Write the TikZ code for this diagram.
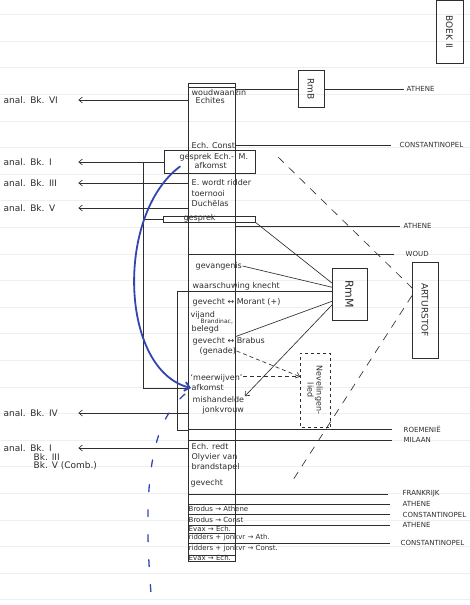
\documentclass[tikz,border=0pt]{standalone}
\usepackage{fontspec}
\setsansfont{DejaVu Sans}
\usepackage{tikz}
\usetikzlibrary{arrows.meta,positioning,calc}
\definecolor{InkGray}{HTML}{2E2E2E}
\definecolor{PenBlue}{HTML}{3346B0}
\definecolor{RuleGray}{HTML}{EDEFF2}

\begin{document}
\begin{tikzpicture}[x=1pt, y=-1pt, >={Straight Barb[length=3.5pt,width=6pt]},
  ink/.style={draw=InkGray, line width=0.65pt},
  txt/.style={inner sep=0.5pt, anchor=west, text=InkGray, font=\sffamily\fontsize{8}{9}\selectfont},
  rowtxt/.style={inner sep=0.5pt, anchor=west, text=InkGray, font=\sffamily\fontsize{7}{8}\selectfont},
  lft/.style={inner sep=0.5pt, anchor=west, text=InkGray, font=\sffamily\fontsize{9}{10}\selectfont},
  anal/.style={lft, text width=74pt},
  place/.style={inner sep=0.5pt, anchor=west, text=InkGray, font=\sffamily\fontsize{7}{8}\selectfont},
  tag/.style={ink, rotate=-90, inner sep=0pt, outer sep=0pt, text=InkGray, align=center, font=\sffamily\fontsize{9}{10}\selectfont},
  longdash/.style={ink, dash pattern=on 8pt off 7pt},
  pen/.style={draw=PenBlue, line width=1.8pt, line cap=round}]
  \useasboundingbox (0,0) rectangle (470,605);
  \fill[white] (0,0) rectangle (470,605);
  % paper ruling
  \foreach \k in {0,...,22}
    \draw[RuleGray, line width=0.5pt] (0,{14.4+26.6*\k}) -- (470,{14.4+26.6*\k});

  % central column
  \node[ink, minimum width=47pt, minimum height=478pt, inner sep=0pt, outer sep=0pt, anchor=north west] (col) at (188,83) {};
  \foreach \y in {87,533,555}
    \draw[ink] (col.west |- 0,\y) -- (col.east |- 0,\y);

  % boxes
  \node[tag, minimum width=63pt, minimum height=27pt] (boek) at (449.5,32) {BOEK II};
  \node[tag, minimum width=37pt, minimum height=26pt] (rmb) at (311,89) {RmB};
  \node[tag, font=\sffamily\fontsize{11}{12}\selectfont, minimum width=52pt, minimum height=35pt] (rmm) at (349.5,294) {RmM};
  \node[tag, minimum width=96pt, minimum height=26pt] (art) at (425,310) {ARTURSTOF};
  \node[tag, dashed, font=\sffamily\fontsize{8}{9}\selectfont, minimum width=74pt, minimum height=30pt] (nev) at (315,390) {Nevelingen-\\lied};
  \node[ink, minimum width=91pt, minimum height=23pt, inner sep=0pt, outer sep=0pt] (gespEM) at (209.5,161.5) {};
  \node[ink, minimum width=92pt, minimum height=6pt, inner sep=0pt, outer sep=0pt] (gespS) at (209,219) {};

  % column texts
  \node[txt] (wou) at (191,93) {woudwaanzin};
  \node[txt] (ech) at (195,101) {Echites};
  \node[txt] (ecC) at (191,146) {Ech. Const};
  \node[txt] (gEM) at (179,157) {gesprek Ech.-};
  \node[txt] (emM) at (238,157) {M.};
  \node[txt] (afkA) at (194,166) {afkomst};
  \node[txt] (wor) at (191,183) {E. wordt ridder};
  \node[txt] (toe) at (191,194) {toernooi};
  \node[txt] (duc) at (191,204) {Duchëlas};
  \node[txt] (gesT) at (183,218) {gesprek};
  \node[txt] (gev) at (195,266) {gevangenis};
  \node[txt] (waa) at (192,286) {waarschuwing knecht};
  \node[txt] (mor) at (192,302) {gevecht ↔ Morant (+)};
  \node[txt] (vij) at (190,315) {vijand};
  \node[txt, font=\sffamily\fontsize{6}{7}\selectfont] (brd) at (200,322) {Brandinac,};
  \node[txt] (bel) at (191,329) {belegd};
  \node[txt] (bra) at (192,341) {gevecht ↔ Brabus};
  \node[txt] (gen) at (199,351) {(genade)};
  \node[txt] (mee) at (190,378) {‘meerwijven’};
  \node[txt] (afk) at (191,388) {afkomst};
  \node[txt] (mis) at (192,400) {mishandelde};
  \node[txt] (jon) at (202,410) {jonkvrouw};
  \node[txt] (red) at (191,447) {Ech. redt};
  \node[txt] (oly) at (191,457) {Olyvier van};
  \node[txt] (bst) at (191,467) {brandstapel};
  \node[txt] (gvc) at (190,483) {gevecht};
  \node[rowtxt] (r1) at (188,509) {Brodus → Athene};
  \node[rowtxt] (r2) at (188,519.5) {Brodus → Const};
  \node[rowtxt] (r3) at (188,528.5) {Evax → Ech.};
  \node[rowtxt] (r4) at (188,537.5) {ridders + jonkvr → Ath.};
  \node[rowtxt] (r5) at (188,548.5) {ridders + jonkvr → Const.};
  \node[rowtxt] (r6) at (188,558) {Evax → Ech.};

  % places
  \node[place] (athA) at (406,89) {ATHENE};
  \node[place] (conA) at (399,145) {CONSTANTINOPEL};
  \node[place] (athB) at (403,226) {ATHENE};
  \node[place] (woud) at (405,254) {WOUD};
  \node[place] (roe) at (403,429) {ROEMENIË};
  \node[place] (mil) at (403,440) {MILAAN};
  \node[place] (fra) at (402,494) {FRANKRIJK};
  \node[place] (athC) at (402,504) {ATHENE};
  \node[place] (conB) at (402,514.5) {CONSTANTINOPEL};
  \node[place] (athD) at (402,525) {ATHENE};
  \node[place] (conC) at (400,543) {CONSTANTINOPEL};

  \draw[ink] (col.east |- rmb.south) -- (rmb.south);
  \draw[ink, shorten >=2pt] (rmb.north) -- (athA.west);
  \draw[ink, shorten >=8pt] (col.east |- conA) -- (conA.west);
  \draw[ink, shorten >=3pt] (col.east |- athB) -- (athB.west);
  \draw[ink, shorten >=11pt] (col.west |- woud) -- (woud.west);
  \draw[ink, shorten >=11pt] (col.west |- roe) -- (roe.west);
  \draw[ink, shorten >=11pt] (col.west |- mil) -- (mil.west);
  \draw[ink, shorten >=14pt] (col.west |- fra) -- (fra.west);
  \foreach \p in {athC,conB,athD}
    \draw[ink, shorten >=12pt] (col.west |- \p) -- (\p.west);
  \draw[ink, shorten >=10pt] (col.west |- conC) -- (conC.west);

  % analogies
  \node[anal] (anVI) at (3,100) {anal. Bk. VI};
  \node[anal] (anI) at (3,162) {anal. Bk. I};
  \node[anal] (anIII) at (3,183) {anal. Bk. III};
  \node[anal] (anV) at (3,208) {anal. Bk. V};
  \node[anal] (anIV) at (3,413) {anal. Bk. IV};
  \node[anal] (anM) at (3,448) {anal. Bk. I};
  \node[lft] (anM2) at (33,457) {Bk. III};
  \node[lft] (anM3) at (33,466) {Bk. V (Comb.)};
  \draw[ink,<-] (anVI.east) -- (col.west |- anVI.east);
  \draw[ink,<-] (anI.east) -- (gespEM.west |- anI.east);
  \draw[ink,<-] (anIII.east) -- (col.west |- anIII.east);
  \draw[ink,<-] (anV.east) -- (col.west |- anV.east);
  \draw[ink,<-] (anIV.east) -- (col.west |- anIV.east);
  \draw[ink,<-] (anM.east) -- (col.west |- anM.east);

  % brackets
  \coordinate (lk) at (143,162);
  \draw[ink] (lk) |- (col.west |- afk.west);
  \draw[ink] (lk |- gespS) -- (gespS.west);
  \coordinate (brk) at (177,430);
  \draw[ink] ($(rmm.south west)!0.45!(rmm.south east)$) -| (brk) -- (col.west |- brk);

  % to RmM
  \draw[ink] (gespS.south east) -- ($(rmm.south west)!0.29!(rmm.south east)$);
  \draw[ink] (gev.east) -- ($(rmm.south west)!0.37!(rmm.south east)$);
  \draw[ink] ($(bra.north west)!0.6!(bra.north east)$) -- ($(rmm.south west)!0.64!(rmm.south east)$);
  \draw[ink,->] ($(rmm.south west)!0.71!(rmm.south east)$) -- (mis.north east);

  % Nevelingen
  \coordinate (nevIn) at ($(nev.south west)!0.32!(nev.south east)$);
  \draw[ink, dash pattern=on 4pt off 3pt, ->] (gen.east) -- (nevIn);
  \draw[ink, dash pattern=on 4pt off 3pt] (mee.east |- nevIn) -- (nevIn);

  % Artus
  \coordinate (dA) at (278,157);
  \coordinate (dB) at (293,480);
  \draw[longdash] (dA) -- ($(art.south west)!0.27!(art.south east)$);
  \draw[longdash] ($(art.south west)!0.35!(art.south east)$) -- (dB);

  % blue pen
  \coordinate (blueEnd) at (152,605);
  \draw[pen, -{Straight Barb[length=5pt,width=9pt]}] ([shift={(16,5)}]gespEM.west) .. controls (115,215) and (120,370) .. (afk.west);
  \draw[pen, line width=1.3pt, dash pattern=on 7pt off 18pt] ([shift={(-6,6)}]afk.west) .. controls (155,420) and (140,470) .. (blueEnd);
\end{tikzpicture}
\end{document}
